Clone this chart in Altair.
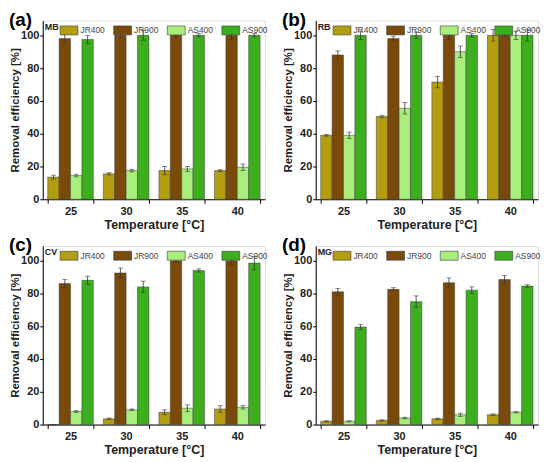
import altair as alt
import pandas as pd

temps = ["25", "30", "35", "40"]
series = ["JR400", "JR900", "AS400", "AS900"]
colors = ["#B39E12", "#7A4A0B", "#A9EE7C", "#3DAF1F"]

# (a) MB
mb_jr400 = [13.5, 15.5, 17.5, 17.5]
mb_jr400_err = [1.2, 0.7, 2.5, 0.5]
mb_jr900 = [98.0, 100.0, 100.0, 100.0]
mb_jr900_err = [2.5, 1.2, 0.8, 2.5]
mb_as400 = [14.5, 17.5, 18.5, 19.5]
mb_as400_err = [0.8, 0.8, 1.5, 2.0]
mb_as900 = [97.5, 100.0, 100.0, 100.0]
mb_as900_err = [2.5, 3.0, 1.0, 1.0]

# (b) RB
rb_jr400 = [39.0, 50.5, 71.5, 100.0]
rb_jr400_err = [0.5, 0.8, 3.5, 3.5]
rb_jr900 = [88.0, 98.0, 100.0, 100.0]
rb_jr900_err = [2.5, 1.5, 2.5, 0.5]
rb_as400 = [39.0, 55.5, 90.0, 100.0]
rb_as400_err = [2.0, 3.5, 3.5, 2.5]
rb_as900 = [100.0, 100.0, 100.0, 100.0]
rb_as900_err = [2.5, 2.0, 1.0, 3.5]

# (c) CV
cv_jr400 = [0.0, 3.5, 7.5, 9.5]
cv_jr400_err = [0.0, 0.5, 1.5, 2.0]
cv_jr900 = [86.0, 92.5, 100.0, 100.0]
cv_jr900_err = [2.5, 3.0, 1.0, 2.5]
cv_as400 = [8.0, 9.0, 10.0, 10.5]
cv_as400_err = [0.5, 0.5, 2.0, 1.0]
cv_as900 = [88.0, 84.0, 94.0, 98.5]
cv_as900_err = [2.5, 3.5, 1.0, 4.0]

# (d) MG
mg_jr400 = [2.0, 2.5, 3.5, 6.0]
mg_jr400_err = [0.3, 0.4, 0.4, 0.5]
mg_jr900 = [81.0, 82.5, 86.5, 88.5]
mg_jr900_err = [2.0, 1.0, 3.0, 2.5]
mg_as400 = [2.0, 4.0, 6.0, 7.5]
mg_as400_err = [0.3, 0.5, 1.0, 0.4]
mg_as900 = [59.5, 75.0, 82.0, 84.5]
mg_as900_err = [1.5, 3.5, 2.0, 0.8]

FONT = "Liberation Sans"
W, H = 224, 180


def build_df(vals, errs):
    rows = []
    for s, v, e in zip(series, vals, errs):
        for t, vv, ee in zip(temps, v, e):
            rows.append({"temp": t, "series": s, "value": vv,
                         "lo": max(vv - ee, 0), "hi": vv + ee})
    return pd.DataFrame(rows)


X_AXIS = alt.Axis(title="Temperature [\u00b0C]", labelAngle=0,
                  tickBand="extent", tickSize=4, labelPadding=2,
                  titlePadding=2, labelFont=FONT, labelFontSize=11,
                  labelFontWeight="bold", titleFont=FONT,
                  titleFontSize=12.5, titleFontWeight="bold",
                  domainColor="#000", tickColor="#000",
                  labelColor="#222", titleColor="#222")
Y_AXIS = alt.Axis(title="Removal efficiency [%]",
                  values=[0, 20, 40, 60, 80, 100], grid=False,
                  labelOverlap=False,
                  tickSize=3, labelPadding=1, titlePadding=0,
                  labelFont=FONT, labelFontSize=11,
                  labelFontWeight="bold", titleFont=FONT,
                  titleFontSize=11.5, titleFontWeight="bold",
                  domainColor="#000", tickColor="#000",
                  labelColor="#222", titleColor="#222")
X_SCALE = alt.Scale(paddingInner=0.18, paddingOuter=0.09)
Y_SCALE = alt.Scale(domain=[0, 109], nice=False)


def xenc():
    return alt.X("temp:N", sort=temps, scale=X_SCALE, axis=X_AXIS)


def yenc(field):
    return alt.Y(field, scale=Y_SCALE, axis=Y_AXIS)


def panel(letter, dye, vals, errs):
    df = build_df(vals, errs)
    xo = alt.XOffset("series:N", sort=series)
    base = alt.Chart(df)
    bars = base.mark_bar(stroke="#3a3a3a", strokeWidth=0.5).encode(
        x=xenc(), xOffset=xo, y=yenc("value:Q"),
        color=alt.Color("series:N", sort=series,
                        scale=alt.Scale(domain=series, range=colors),
                        legend=alt.Legend(
                            title=None, orient="none", legendX=17, legendY=0,
                            direction="horizontal", columns=4,
                            labelFont=FONT, labelFontSize=8.5,
                            labelColor="#444", labelOffset=2,
                            columnPadding=7, padding=0,
                            symbolType="M-1,-0.5H1V0.5H-1Z",
                            symbolSize=324, symbolStrokeColor="#3a3a3a",
                            symbolStrokeWidth=0.6, symbolOpacity=1)))
    rule = base.mark_rule(color="#333", strokeWidth=0.8).encode(
        x=xenc(), xOffset=xo, y=yenc("lo:Q"), y2="hi:Q")
    cap_hi = base.mark_tick(color="#333", thickness=0.8, size=5).encode(
        x=xenc(), xOffset=xo, y=yenc("hi:Q"))
    cap_lo = base.mark_tick(color="#333", thickness=0.8, size=5).encode(
        x=xenc(), xOffset=xo, y=yenc("lo:Q"))
    ann = pd.DataFrame({"letter": [letter], "dye": [dye]})
    lab = alt.Chart(ann).mark_text(
        font=FONT, fontSize=19, fontWeight="bold", align="left",
        baseline="alphabetic", color="#000").encode(
        x=alt.value(-34), y=alt.value(5), text="letter:N")
    dye_lab = alt.Chart(ann).mark_text(
        font=FONT, fontSize=9, fontWeight="bold", align="left",
        baseline="middle", color="#222").encode(
        x=alt.value(2), y=alt.value(6), text="dye:N")
    return alt.layer(bars, rule, cap_hi, cap_lo, lab, dye_lab).properties(
        width=W, height=H)


pa = panel("(a)", "MB",
           [mb_jr400, mb_jr900, mb_as400, mb_as900],
           [mb_jr400_err, mb_jr900_err, mb_as400_err, mb_as900_err])
pb = panel("(b)", "RB",
           [rb_jr400, rb_jr900, rb_as400, rb_as900],
           [rb_jr400_err, rb_jr900_err, rb_as400_err, rb_as900_err])
pc = panel("(c)", "CV",
           [cv_jr400, cv_jr900, cv_as400, cv_as900],
           [cv_jr400_err, cv_jr900_err, cv_as400_err, cv_as900_err])
pd_ = panel("(d)", "MG",
            [mg_jr400, mg_jr900, mg_as400, mg_as900],
            [mg_jr400_err, mg_jr900_err, mg_as400_err, mg_as900_err])

row1 = alt.hconcat(pa, pb, spacing=12).resolve_scale(
    color="independent").resolve_legend(color="independent")
row2 = alt.hconcat(pc, pd_, spacing=12).resolve_scale(
    color="independent").resolve_legend(color="independent")

chart = alt.vconcat(row1, row2, spacing=4).resolve_scale(
    color="independent").resolve_legend(
    color="independent").properties(padding=0).configure_view(
    stroke=None).configure(background="white")

chart.save("out.html", embed_options={"renderer": "svg", "actions": False})
